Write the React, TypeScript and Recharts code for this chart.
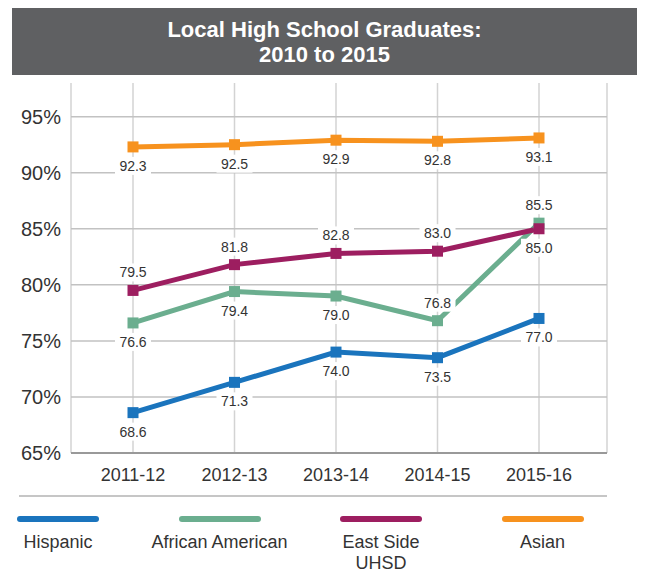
import React from "react"
import { LineChart, Line, XAxis, YAxis, CartesianGrid, LabelList } from "recharts"

// school years on the x axis
const years = ["2011-12", "2012-13", "2013-14", "2014-15", "2015-16"]

// graduation rates (%)
const hispanic = [68.6, 71.3, 74.0, 73.5, 77.0]
const africanAmerican = [76.6, 79.4, 79.0, 76.8, 85.5]
const eastSide = [79.5, 81.8, 82.8, 83.0, 85.0]
const asian = [92.3, 92.5, 92.9, 92.8, 93.1]

const yTicks = [65, 70, 75, 80, 85, 90, 95]

const FONT = '"Liberation Sans", Arial, Helvetica, sans-serif'

// label placement: a = above the point, b = below
const series = [
  { key: "hispanic", name: "Hispanic", color: "#1a74bd", place: ["b", "b", "b", "b", "b"] },
  { key: "africanAmerican", name: "African American", color: "#6bae8f", place: ["b", "b", "b", "a", "a"] },
  { key: "eastSide", name: "East Side\nUHSD", color: "#9d1e60", place: ["a", "a", "a", "a", "b"] },
  { key: "asian", name: "Asian", color: "#f7921e", place: ["b", "b", "b", "b", "b"] },
]

const data = years.map((year, i) => ({
  year,
  hispanic: hispanic[i],
  africanAmerican: africanAmerican[i],
  eastSide: eastSide[i],
  asian: asian[i],
}))

const SquareDot = (props: any) => {
  const { cx, cy, stroke } = props
  if (cx == null || cy == null) return null
  return <rect x={cx - 5.5} y={cy - 5.5} width={11} height={11} fill={stroke} />
}

const labelY = (place: string[], index: number, y: number) => (place[index] === "a" ? y - 18 : y + 19)

// white boxes that break the gridlines behind the value labels
const makeBox = (place: string[]) => (props: any) => {
  const { x, y, index } = props
  const ty = labelY(place, index, y)
  return <rect x={x - 18} y={ty - 9} width={36} height={18} fill="#fff" />
}

const makeText = (place: string[]) => (props: any) => {
  const { x, y, value, index } = props
  const ty = labelY(place, index, y)
  return (
    <text x={x} y={ty} textAnchor="middle" dominantBaseline="central" fontSize={14} fill="#333" fontFamily={FONT}>
      {Number(value).toFixed(1)}
    </text>
  )
}

export default function App() {
  return (
    <div style={{ position: "absolute", left: 0, top: 0, width: 650, height: 572, background: "#fff", fontFamily: FONT }}>
      <div
        style={{
          position: "absolute",
          left: 12,
          top: 8,
          width: 625,
          height: 67,
          background: "#5f6062",
          color: "#fff",
          fontWeight: "bold",
          fontSize: 22,
          lineHeight: "25px",
          textAlign: "center",
          display: "flex",
          flexDirection: "column",
          justifyContent: "center",
        }}
      >
        <div>Local High School Graduates:</div>
        <div>2010 to 2015</div>
      </div>

      <div style={{ position: "absolute", left: 0, top: 0 }}>
        <LineChart width={650} height={572} data={data} margin={{ top: 83, right: 43, left: 0, bottom: 79 }}>
          <CartesianGrid stroke="#d3d3d3" strokeWidth={1.5} horizontal={false} />
          <CartesianGrid stroke="#c2c2c2" strokeWidth={1.5} vertical={false} horizontalValues={[70, 75, 80, 85, 90, 95]} />
          <XAxis
            dataKey="year"
            padding={{ left: 62, right: 68 }}
            tickLine={false}
            tickSize={0}
            tickMargin={15}
            axisLine={{ stroke: "#999", strokeWidth: 2 }}
            tick={{ fontSize: 18, fill: "#333", fontFamily: FONT }}
            height={40}
          />
          <YAxis
            domain={[65, 98]}
            ticks={yTicks}
            width={71}
            axisLine={false}
            tickLine={false}
            tickSize={0}
            tickMargin={10}
            tickFormatter={(v: number) => `${v}%`}
            tick={{ fontSize: 20, fill: "#333", fontFamily: FONT }}
          />
          {series.map((s) => (
            <Line
              key={`box-${s.key}`}
              dataKey={s.key}
              stroke="none"
              dot={false}
              activeDot={false}
              legendType="none"
              isAnimationActive={false}
            >
              <LabelList dataKey={s.key} content={makeBox(s.place)} />
            </Line>
          ))}
          {series.map((s) => (
            <Line
              key={s.key}
              dataKey={s.key}
              stroke={s.color}
              strokeWidth={5}
              dot={<SquareDot />}
              activeDot={false}
              isAnimationActive={false}
            />
          ))}
          {series.map((s) => (
            <Line
              key={`txt-${s.key}`}
              dataKey={s.key}
              stroke="none"
              dot={false}
              activeDot={false}
              legendType="none"
              isAnimationActive={false}
            >
              <LabelList dataKey={s.key} content={makeText(s.place)} />
            </Line>
          ))}
        </LineChart>
      </div>

      <div style={{ position: "absolute", left: 19, top: 495, width: 588, height: 2, background: "#c6c6c6" }} />

      {series.map((s, i) => (
        <div key={s.key} style={{ position: "absolute", left: 58 + i * 161.5 - 80, top: 516, width: 160, textAlign: "center" }}>
          <div style={{ margin: "0 auto", width: 82, height: 6, borderRadius: 3, background: s.color }} />
          <div style={{ marginTop: 10, fontSize: 18, lineHeight: "21px", color: "#333", whiteSpace: "pre-line" }}>{s.name}</div>
        </div>
      ))}
    </div>
  )
}
